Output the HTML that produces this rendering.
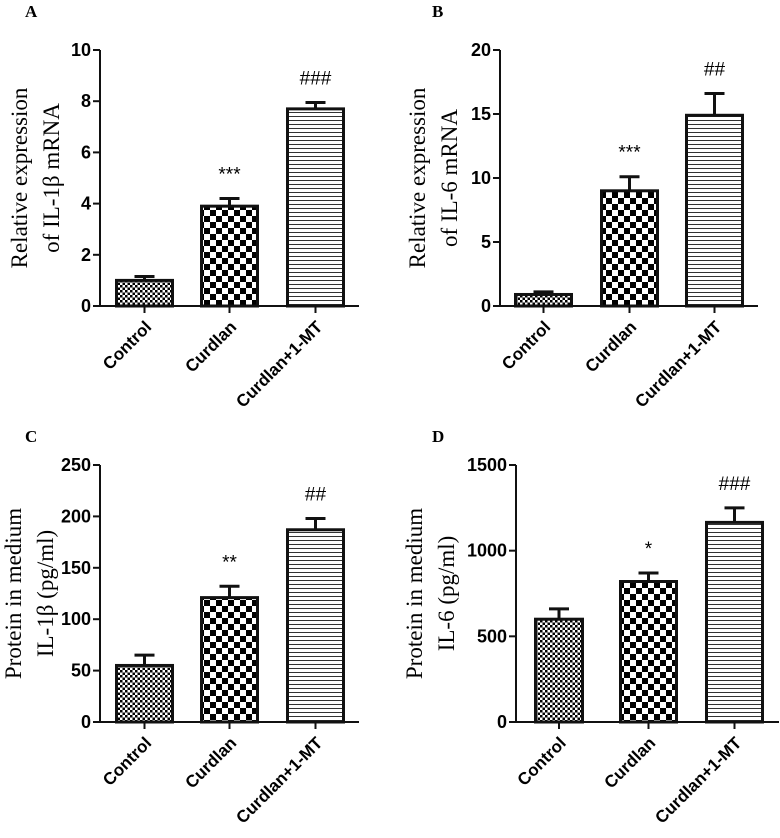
<!DOCTYPE html>
<html><head><meta charset="utf-8"><style>
html,body{margin:0;padding:0;background:#fff;}
svg{display:block;}
</style></head><body>
<svg id="fig" width="780" height="838" viewBox="0 0 780 838" xmlns="http://www.w3.org/2000/svg">
<defs>
<pattern id="pFine" width="5" height="5" patternUnits="userSpaceOnUse"><rect width="5" height="5" fill="#fff"/><rect width="2.5" height="2.5" fill="#000"/><rect x="2.5" y="2.5" width="2.5" height="2.5" fill="#000"/></pattern>
<pattern id="pCheck" width="12" height="12" patternUnits="userSpaceOnUse"><rect width="12" height="12" fill="#fff"/><rect width="6" height="6" fill="#000"/><rect x="6" y="6" width="6" height="6" fill="#000"/></pattern>
<pattern id="pLines" width="4" height="4" patternUnits="userSpaceOnUse"><rect width="4" height="4" fill="#fff"/><rect y="0" width="4" height="1" fill="#333"/></pattern>
</defs>
</svg>
<script>
const categories = ["Control","Curdlan","Curdlan+1-MT"];
const valuesA = [1.0, 3.9, 7.7];
const errorsA = [0.15, 0.3, 0.25];
const marksA = ["", "***", "###"];
const ticksA = [0,2,4,6,8,10];
const valuesB = [0.9, 9.0, 14.9];
const errorsB = [0.2, 1.1, 1.7];
const marksB = ["", "***", "##"];
const ticksB = [0,5,10,15,20];
const valuesC = [55, 121, 187];
const errorsC = [10, 11, 11];
const marksC = ["", "**", "##"];
const ticksC = [0,50,100,150,200,250];
const valuesD = [600, 820, 1165];
const errorsD = [60, 50, 85];
const marksD = ["", "*", "###"];
const ticksD = [0,500,1000,1500];

const NS = "http://www.w3.org/2000/svg";
const svg = document.getElementById("fig");
const fills = ["url(#pFine)","url(#pCheck)","url(#pLines)"];
function mk(tag, attrs, parent){
  const e = document.createElementNS(NS, tag);
  for (const k in attrs) e.setAttribute(k, attrs[k]);
  (parent||svg).appendChild(e);
  return e;
}
function panel(cfg){
  const g = mk("g", {});
  
  
  const ymax = cfg.ticks[cfg.ticks.length-1];
  const y = v => cfg.y0 - (v / ymax) * (cfg.y0 - cfg.y1);
  const lt = mk("text", {x: cfg.lx, y: cfg.ly, "font-family": "Liberation Serif, serif", "font-weight": "bold", "font-size": 17}, g);
  lt.textContent = cfg.letter;
  
  
  const tt = mk("text", {transform: `translate(${cfg.tx},${(cfg.y0+cfg.y1)/2}) rotate(-90)`, "text-anchor": "middle", "font-family": "Liberation Serif, serif", "font-size": 23}, g);
  
  
  const s1 = mk("tspan", {x: 0, dy: -10}, tt); s1.textContent = cfg.title[0];
  const s2 = mk("tspan", {x: 0, dy: 32}, tt); s2.textContent = cfg.title[1];
  categories.forEach((c, i) => {
    const x0 = cfg.bx[i][0], x1 = cfg.bx[i][1], cx = (x0 + x1) / 2;
    const top = y(cfg.vals[i]);
    const et = y(cfg.vals[i] + cfg.errs[i]);
    const eb = mk("path", {d: `M${cx} ${top} V${et} M${cx-10} ${et} H${cx+10}`, stroke: "#111", "stroke-width": 3, fill: "none"}, g);
    
    
    const r = mk("rect", {x: x0+1.5, y: top, width: x1-x0-3, height: cfg.y0-top, fill: fills[i], stroke: "#111", "stroke-width": 3}, g);
    
    
    if (cfg.marks[i]) {
      const m = mk("text", {x: cx, y: et - 18, "text-anchor": "middle", "font-family": "Liberation Sans, sans-serif", "font-size": 19}, g);
      m.textContent = cfg.marks[i];
      
      
    }
    mk("line", {x1: cx, x2: cx, y1: cfg.y0, y2: cfg.y0+7, stroke: "#111", "stroke-width": 2}, g);
    const cl = mk("text", {transform: `translate(${cx+8},${cfg.y0+22}) rotate(-45)`, "text-anchor": "end", "font-family": "Liberation Sans, sans-serif", "font-weight": "bold", "font-size": 17}, g);
    cl.textContent = c;
    
    
  });
  const ax = mk("path", {d: `M${cfg.ax} ${cfg.y1} V${cfg.y0} H${cfg.xend}`, stroke: "#111", "stroke-width": 2, fill: "none"}, g);
  
  
  cfg.ticks.forEach(t => {
    mk("line", {x1: cfg.ax-7, x2: cfg.ax, y1: y(t), y2: y(t), stroke: "#111", "stroke-width": 2}, g);
    const tl = mk("text", {x: cfg.ax-9, y: y(t)+6, "text-anchor": "end", "font-family": "Liberation Sans, sans-serif", "font-weight": "bold", "font-size": 18}, g);
    tl.textContent = t;
    
    
  });
}
panel({letter:"A", lx:25, ly:17, ax:100, tx:37, y0:306, y1:50, xend:359, bx:[[115,174],[200,259],[286,345]], vals:valuesA, errs:errorsA, marks:marksA, ticks:ticksA, title:["Relative expression","of IL-1\u03b2 mRNA"]});
panel({letter:"B", lx:432, ly:17, ax:500, tx:435, y0:306, y1:50, xend:758, bx:[[514,573],[600,659],[685,744]], vals:valuesB, errs:errorsB, marks:marksB, ticks:ticksB, title:["Relative expression","of IL-6 mRNA"]});
panel({letter:"C", lx:25, ly:442, ax:100, tx:31, y0:722, y1:465, xend:359, bx:[[115,174],[200,259],[286,345]], vals:valuesC, errs:errorsC, marks:marksC, ticks:ticksC, title:["Protein in medium","IL-1\u03b2 (pg/ml)"]});
panel({letter:"D", lx:432, ly:442, ax:516, tx:432, y0:722, y1:465, xend:779, bx:[[534,584],[619,678],[705,764]], vals:valuesD, errs:errorsD, marks:marksD, ticks:ticksD, title:["Protein in medium","IL-6 (pg/ml)"]});
</script>
</body></html>
